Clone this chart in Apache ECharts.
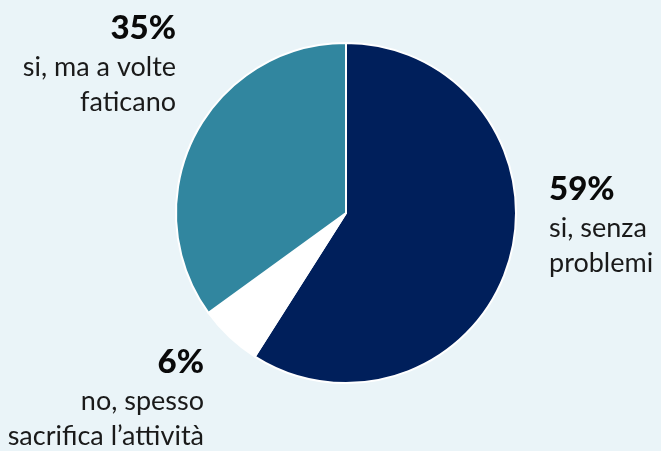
<!DOCTYPE html>
<html>
<head>
<meta charset="utf-8">
<script src="https://cdn.jsdelivr.net/npm/echarts@6/dist/echarts.min.js"></script>
<style>
  html, body { margin: 0; padding: 0; background: #EAF4F8; }
  #chart { width: 661px; height: 451px; }
</style>
</head>
<body>
<div id="chart"></div>
<script>
const labels = ['si, senza\nproblemi', 'no, spesso\nsacrifica l\u2019attività', 'si, ma a volte\nfaticano'];
const values = [59, 6, 35];
const colors = ['#001F5B', '#FFFFFF', '#31869F'];

// label anchor points (top of the percent line)
const labelPos = [
  { x: 549, y: 167, align: 'left' },
  { x: 204, y: 340, align: 'right' },
  { x: 176, y: 6, align: 'right' },
];

const chart = echarts.init(document.getElementById('chart'));

chart.setOption({
  backgroundColor: '#EAF4F8',
  series: [
    {
      type: 'pie',
      center: [346, 213],
      radius: [0, 170],
      startAngle: 90,
      clockwise: true,
      silent: true,
      animation: false,
      itemStyle: {
        borderColor: '#FFFFFF',
        borderWidth: 2,
      },
      label: {
        show: true,
        overflow: 'none',
        formatter(p) {
          return '{pct|' + p.value + '%}\n{txt|' + p.name.replace('\n', '}\n{txt|') + '}';
        },
        rich: {
          pct: {
            fontFamily: 'Lato',
            fontWeight: 900,
            fontSize: 33,
            color: '#0A0A0A',
            lineHeight: 44,
          },
          txt: {
            fontFamily: 'Lato',
            fontSize: 27,
            color: '#1A1A1A',
            lineHeight: 35,
          },
        },
      },
      labelLine: { show: false },
      labelLayout(params) {
        const p = labelPos[params.dataIndex];
        return { x: p.x, y: p.y, align: p.align, verticalAlign: 'top' };
      },
      data: values.map((v, i) => ({
        value: v,
        name: labels[i],
        itemStyle: { color: colors[i] },
        label: { align: labelPos[i].align },
      })),
    },
  ],
});
</script>
</body>
</html>
